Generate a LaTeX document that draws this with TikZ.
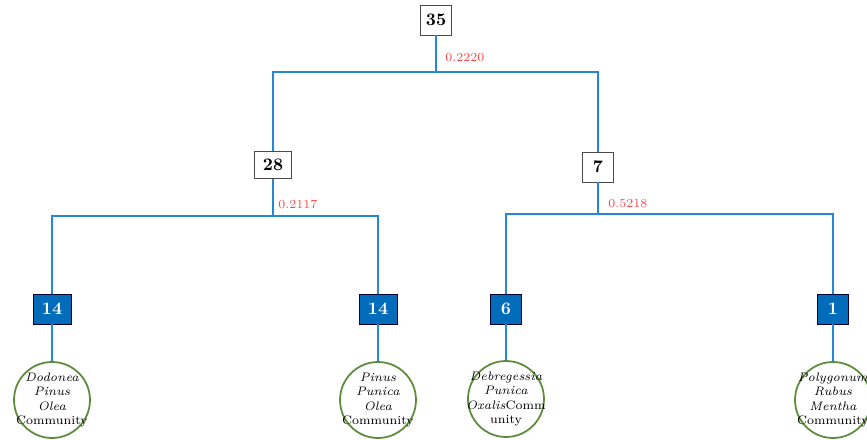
\documentclass[tikz,border=0pt]{standalone}
\definecolor{treeblue}{RGB}{36,136,214}
\definecolor{boxblue}{RGB}{0,108,186}
\definecolor{ringgreen}{RGB}{92,140,58}
\definecolor{indexred}{RGB}{255,70,70}
\begin{document}
\begin{tikzpicture}[x=0.02cm, y=-0.02cm]

    % Styles
    \tikzstyle{total} = [rectangle, minimum width=0.62cm, minimum height=0.6cm, inner sep=0pt, text centered, draw=black!70, line width=0.5pt, fill=white, font=\fontsize{10}{12}\selectfont\bfseries]
    \tikzstyle{leaf} = [rectangle, minimum width=0.62cm, minimum height=0.6cm, inner sep=0pt, text centered, draw=black!80!blue, line width=0.5pt, fill=boxblue, text=white, font=\fontsize{10}{12}\selectfont\bfseries]
    \tikzstyle{community} = [circle, minimum size=1.52cm, inner sep=-6pt, draw=ringgreen, line width=1pt, fill=white, align=center, font=\fontsize{7}{8.2}\selectfont]
    \tikzstyle{index} = [anchor=west, inner sep=0pt, text=indexred, font=\fontsize{7}{8}\selectfont]
    \tikzstyle{branch} = [treeblue, line width=1.3pt]

    \useasboundingbox (0,0) rectangle (867,440);

    % Nodes
    \node (n35) [total] at (436,20) {35};
    \node (n28) [total, minimum width=0.74cm, minimum height=0.54cm] at (273,165) {28};
    \node (n7) [total] at (598,167) {7};

    \node (b14a) [leaf, minimum width=0.76cm] at (52,309) {14};
    \node (b14b) [leaf, minimum width=0.76cm] at (378,309) {14};
    \node (b6) [leaf] at (506,309) {6};
    \node (b1) [leaf] at (833,309) {1};

    \node (c1) [community] at (52,400) {\textit{Dodonea}\\\textit{Pinus}\\\textit{Olea}\\Community};
    \node (c2) [community] at (378,400) {\textit{Pinus}\\\textit{Punica}\\\textit{Olea}\\Community};
    \node (c3) [community] at (506,399) {\textit{Debregessia}\\\textit{Punica}\\\textit{Oxalis}Comm\\unity};
    \node (c4) [community] at (833,400) {\textit{Polygonum}\\\textit{Rubus}\\\textit{Mentha}\\Community};

    \coordinate (j35) at (436,72);
    \coordinate (j28) at (273,216);
    \coordinate (j7) at (598,214);

    \node (s35) [index] at (445,58) {0.2220};
    \node (s28) [index] at (278,204) {0.2117};
    \node (s7) [index] at (608,204) {0.5218};

    % Lines
    \draw [branch] (n35) -- (j35);
    \draw [branch] (j35) -| (n28);
    \draw [branch] (j35) -| (n7);
    \draw [branch] (n28) -- (j28);
    \draw [branch] (j28) -| (b14a);
    \draw [branch] (j28) -| (b14b);
    \draw [branch] (n7) -- (j7);
    \draw [branch] (j7) -| (b6);
    \draw [branch] (j7) -| (b1);
    \draw [branch] (b14a) -- (c1);
    \draw [branch] (b14b) -- (c2);
    \draw [branch] (b6) -- (c3);
    \draw [branch] (b1) -- (c4);

\end{tikzpicture}
\end{document}
